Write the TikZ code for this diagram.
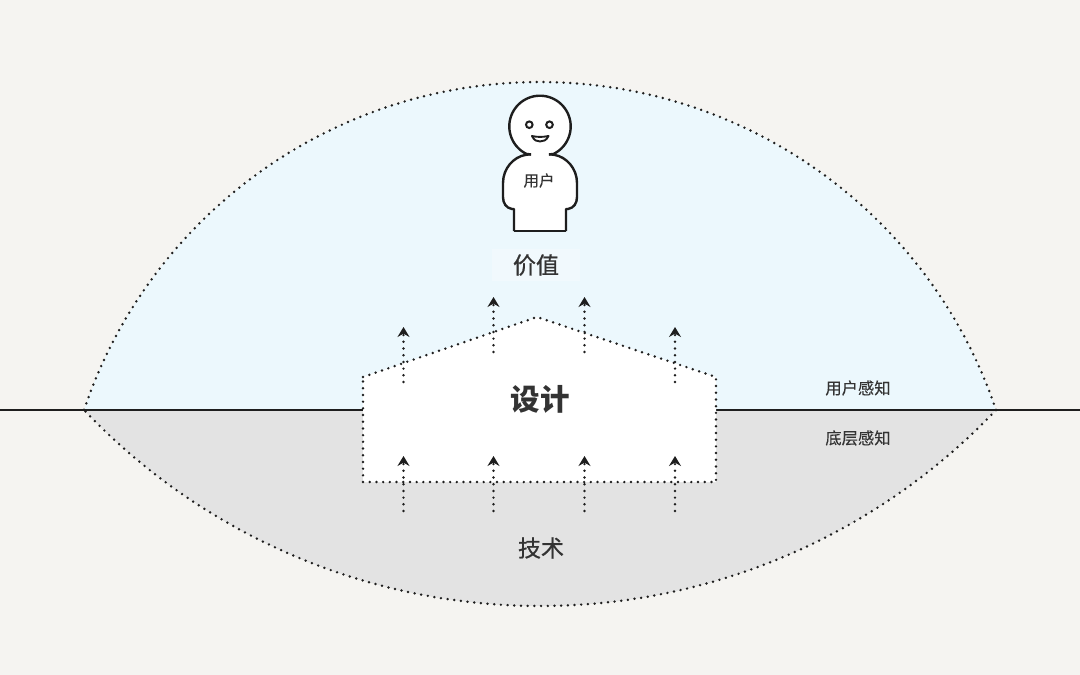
\documentclass[tikz,border=0pt]{standalone}
\usepackage{fontspec}
\usetikzlibrary{arrows.meta}
\newfontfamily\cjk[FakeBold=0.8]{Noto Sans CJK SC}
\newfontfamily\cjklight[FakeBold=0.1]{Noto Sans CJK SC}
\newfontfamily\cjkplain{Noto Sans CJK SC}
\definecolor{bgc}{HTML}{F5F4F1}
\definecolor{skyc}{HTML}{ECF8FD}
\definecolor{valuec}{HTML}{F1F9FD}
\definecolor{greyc}{HTML}{E3E3E3}
\definecolor{inkc}{HTML}{1E1E1E}
\definecolor{textc}{HTML}{333333}
\tikzset{
  dotline/.style={draw=inkc,line width=2.7pt,line cap=round,dash pattern=on 0pt off 6.7pt},
  uparrow/.style={dotline,-{Stealth[length=10pt,width=12pt,inset=3.4pt]}},
  figure/.style={draw=inkc,line width=2.4pt,line join=round},
  lab/.style={text=textc,inner sep=0pt}
}
\begin{document}
\begin{tikzpicture}[x=1pt,y=-1pt]
\useasboundingbox (0,0) rectangle (1080,675);
\fill[bgc] (0,0) rectangle (1080,675);
% regions
\fill[skyc] plot[domain=18.55:161.45,samples=80] ({540+481*cos(\x)},{563-481*sin(\x)}) -- cycle;
\fill[greyc] plot[domain=43.48:136.52,samples=80] ({540+628.5*cos(\x)},{-22.5+628.5*sin(\x)}) -- cycle;
% horizon
\coordinate (hl) at (0,410); \coordinate (hr) at (1080,410);
\draw[inkc,line width=2.4pt] (hl) -- (hr);
% boundary
\draw[dotline] plot[domain=18.55:161.45,samples=120] ({540+481*cos(\x)},{563-481*sin(\x)});
\draw[dotline] plot[domain=43.48:136.52,samples=120] ({540+628.5*cos(\x)},{-22.5+628.5*sin(\x)});
% house
\fill[white] (363,377) -- (537,317) -- (716,377) -- (716,482) -- (363,482) -- cycle;
\draw[dotline] (363,377) -- (537,317) -- (716,377) -- (716,482) -- (363,482) -- cycle;
% arrows
\foreach \n/\px/\a/\b in {a/403.5/382/327,b/493.5/352/297,c/584.5/352/297,d/675/382/327,e/403.5/511/456,f/493.5/511/456,g/584.5/511/456,h/675/511/456}{
  \coordinate (\n0) at (\px,\a); \coordinate (\n1) at (\px,\b);
  \draw[uparrow] (\n0) -- (\n1);
}
% person: white fill
\fill[white] (514,231) -- (514,209) -- (512,209) .. controls (506,208) and (503,203) .. (503,197) -- (503,183)
  .. controls (503,168) and (514,157) .. (525,155) -- (555,155)
  .. controls (566,157) and (577,168) .. (577,183) -- (577,197)
  .. controls (577,203) and (574,208) .. (568,209) -- (566,209) -- (566,231) -- cycle;
\fill[white] (540,126.4) circle[radius=30.7];
% person: outline
\draw[figure] (514,231) -- (514,209) -- (512,209) .. controls (506,208) and (503,203) .. (503,197) -- (503,183)
  .. controls (503,168) and (514,157) .. (525,155) .. controls (527,154.6) and (529,154.4) .. (531,154.4);
\draw[figure] (566,231) -- (566,209) -- (568,209) .. controls (574,208) and (577,203) .. (577,197) -- (577,183)
  .. controls (577,168) and (566,157) .. (555,155) .. controls (553,154.6) and (551,154.4) .. (549,154.4);
\draw[figure] (514,231) -- (566,231);
\draw[figure] (549,154.4) -- (553.5,154) -- plot[domain=-64:244,samples=90] ({540+30.7*cos(\x)},{126.4-30.7*sin(\x)}) -- (531,154.4);
% face
\draw[inkc,line width=2pt] (529.3,124.7) circle[radius=3.3];
\draw[inkc,line width=2pt] (549.5,124.7) circle[radius=3.3];
\draw[inkc,line width=1.9pt,fill=white,line join=round] (532,136) .. controls (537,137.2) and (543,137.2) .. (548.5,136) .. controls (546.5,140.5) and (543,141.5) .. (540,141.5) .. controls (537,141.5) and (534,140.5) .. (532,136) -- cycle;
% labels
\node[lab,font=\cjklight\fontsize{15.5}{15}\selectfont] (user) at (539,180.5) {用户};
\node[lab,fill=valuec,inner xsep=21pt,inner ysep=5pt,font=\cjk\fontsize{23}{23}\selectfont] (value) at (536,265) {价值};
\node[lab,font=\cjkplain\bfseries\fontsize{29.5}{30}\selectfont] (design) at (540,399) {设计};
\node[lab,font=\cjk\fontsize{23}{23}\selectfont] (tech) at (541,548) {技术};
\node[lab,font=\cjklight\fontsize{16.3}{16}\selectfont] (up) at (858,388) {用户感知};
\node[lab,font=\cjklight\fontsize{16.3}{16}\selectfont] (low) at (858,438) {底层感知};
\end{tikzpicture}
\end{document}
